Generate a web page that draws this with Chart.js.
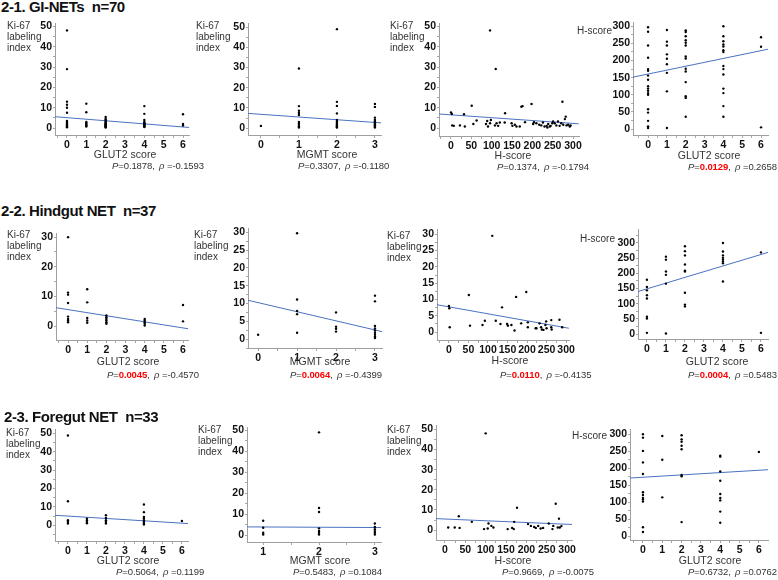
<!DOCTYPE html>
<html>
<head>
<meta charset="utf-8">
<script src="https://cdn.jsdelivr.net/npm/chart.js@4.4.0/dist/chart.umd.min.js"></script>
<style>
body { margin:0; background:#fff; width:778px; height:580px; overflow:hidden; position:relative; font-family:"Liberation Sans", Arial, sans-serif; color:#222; }
.abs { position:absolute; white-space:nowrap; }
canvas { position:absolute; }
.title { font-weight:bold; font-size:15px; line-height:18px; color:#111; letter-spacing:-0.4px; }
.ylab { font-size:10px; line-height:11px; color:#333; }
.xlab { font-size:10.5px; line-height:12px; color:#333; transform:translateX(-50%); }
.stat { font-size:9.5px; line-height:12px; color:#333; letter-spacing:-0.1px; }
.sig { color:#ff0000; font-weight:bold; }
</style>
</head>
<body>
<script>
// tick labels
const glutTicks = [0, 1, 2, 3, 4, 5, 6];
const mgmtTicks = [0, 1, 2, 3];
const mgmtTicksFg = [1, 2, 3];
const hTicks = [0, 50, 100, 150, 200, 250, 300];
const ki50Ticks = [0, 10, 20, 30, 40, 50];
const ki30Ticks = [0, 10, 20, 30];
const ki30Ticks5 = [0, 5, 10, 15, 20, 25, 30];

const titles = ['2-1. GI-NETs  n=70', '2-2. Hindgut NET  n=37', '2-3. Foregut NET  n=33'];
const pValues = ['0.1878', '0.3307', '0.1374', '0.0129',
                 '0.0045', '0.0064', '0.0110', '0.0004',
                 '0.5064', '0.5483', '0.9669', '0.6732'];
const rhoValues = ['-0.1593', '-0.1180', '-0.1794', '0.2658',
                   '-0.4570', '-0.4399', '-0.4135', '0.5483',
                   '0.1199', '0.1084', '-0.0075', '0.0762'];

// 2-1 GI-NETs
const giGlutKi = [[0,48],[0,29],[0,13],[0,11.5],[0,10],[0,7.5],[0,3.5],[0,3],[0,2.5],[0,2],[0,1.5],[0,1.2],[0,1],[0,0.7],[0,0.4],
  [1,12],[1,7.8],[1,3],[1,2.5],[1,2],[1,1.5],[1,1.2],[1,0.8],
  [2,5.5],[2,4.5],[2,4],[2,3.5],[2,3],[2,2.5],[2,2.2],[2,2],[2,1.8],[2,1.5],[2,1.2],[2,1],[2,0.8],[2,0.5],[2,0.3],
  [4,10.8],[4,7],[4,4],[4,3],[4,2.5],[4,2.2],[4,2],[4,1.8],[4,1.5],[4,1.2],[4,1],[4,0.8],[4,0.5],
  [6,6.8],[6,2],[6,1.3]];
const giGlutKiFit = [[-0.62,5.6],[6.31,0.3]];

const giMgmtKi = [[0,1.1],
  [1,29.5],[1,10.9],[1,8.6],[1,7.5],[1,6.5],[1,3],[1,2.2],[1,1.5],[1,0.8],[1,0.3],
  [2,49],[2,13],[2,11],[2,7.3],[2,4],[2,3.2],[2,2.6],[2,2],[2,1.6],[2,1.2],[2,0.8],[2,0.5],[2,0.3],
  [3,12],[3,10.5],[3,5.2],[3,4],[3,3.3],[3,2.8],[3,2.2],[3,1.8],[3,1.4],[3,1],[3,0.6],[3,0.3]];
const giMgmtKiFit = [[-0.34,7.3],[3.16,2.6]];

const giHKi = [[0,7.7],[2,6.9],[3,1.3],[7,1.1],[22,1.3],[32,6.8],[34,0.8],[51,11],[55,2],[63,3.7],
  [86,2],[89,3.5],[91,0.8],[96,48],[96,2.4],[98,4],[108,1.3],[110,29],[112,2.4],[116,1.1],[120,2.7],
  [133,7.3],[132,2.7],[149,2.4],[151,1.1],[157,1.6],[161,0.8],[169,0.8],[173,10.5],[176,10.8],[182,2.9],
  [198,11.8],[202,2],[204,2.9],[210,2.4],[217,1.6],[222,1.3],[226,2.7],[230,0.8],[235,1.1],[237,0.3],
  [239,2],[243,0.8],[245,1.1],[249,2.4],[251,3.2],[255,2.4],[259,1.3],[263,3.2],[267,1.1],[271,2.4],
  [274,12.9],[276,1.6],[280,4.4],[282,5.6],[284,1.3],[288,1.6],[292,0.8],[294,1.3]];
const giHKiFit = [[-29,6.9],[314,2.1]];

const giGlutH = [[0,297],[0,284],[0,244],[0,208],[0,175],[0,170],[0,156],[0,144],[0,125],[0,118],[0,112],[0,105],[0,100],[0,58],[0,48],[0,24],[0,8],[0,3],
  [1,289],[1,255],[1,244],[1,218],[1,205],[1,189],[1,164],[1,110],[1,3],
  [2,288],[2,283],[2,271],[2,259],[2,252],[2,244],[2,212],[2,206],[2,176],[2,168],[2,137],[2,96],[2,91],[2,36],
  [4,300],[4,271],[4,256],[4,247],[4,241],[4,230],[4,225],[4,184],[4,175],[4,159],[4,118],[4,105],[4,67],[4,36],
  [6,268],[6,240],[6,5]];
const giGlutHFit = [[-0.8,151.5],[6.37,233]];

// 2-2 Hindgut NET
const hgGlutKi = [[0,30],[0,11.3],[0,10.6],[0,7.8],[0,3.2],[0,2.4],[0,1.9],[0,1.3],
  [1,12.4],[1,8],[1,2.7],[1,1.9],[1,1.1],
  [2,3.6],[2,3],[2,2.4],[2,1.9],[2,1.3],[2,0.8],
  [4,2.4],[4,1.9],[4,1.3],[4,0.8],[4,0.2],
  [6,7.1],[6,1.6]];
const hgGlutKiFit = [[-0.63,6.2],[6.26,-0.9]];

const hgMgmtKi = [[0,1.2],
  [1,29.7],[1,11.1],[1,7.9],[1,7],[1,1.8],
  [2,7.5],[2,3.5],[2,2.9],[2,2.1],
  [3,12.2],[3,10.6],[3,3.7],[3,3],[3,2.4],[3,1.8],[3,1.2],[3,0.7],[3,0.3]];
const hgMgmtKiFit = [[-0.26,10.9],[3.18,2.1]];

const hgHKi = [[0,8],[1,7.3],[2,1.5],[51,11.4],[54,2],[86,2.2],[92,3.5],[111,29.5],[120,3.5],[132,2.5],
  [136,7.6],[149,2.5],[151,2],[160,2.2],[168,0.5],[172,10.8],[185,2.7],[198,12.3],[202,3],[202,1.5],
  [222,1.2],[224,1.2],[232,2.7],[236,1.5],[238,0.8],[242,0.7],[247,2.2],[249,3.3],[250,1.2],
  [262,3.7],[262,1.5],[263,0.8],[283,3.8],[290,1.5]];
const hgHKiFit = [[-30.5,8.4],[307,1.2]];

const hgGlutH = [[0,179],[0,155],[0,144],[0,128],[0,117],[0,57],[0,51],[0,4],
  [1,255],[1,245],[1,206],[1,195],[1,166],[1,2],
  [2,289],[2,273],[2,259],[2,229],[2,209],[2,206],[2,136],[2,97],[2,91],
  [4,300],[4,272],[4,259],[4,251],[4,245],[4,239],[4,233],[4,173],
  [6,269],[6,4]];
const hgGlutHFit = [[-0.47,140],[6.37,269]];

// 2-3 Foregut NET
const fgGlutKi = [[0,48.8],[0,13],[0,2.7],[0,1.8],[0,0.9],
  [1,3.6],[1,2.7],[1,1.8],[1,1.1],
  [2,5.4],[2,3.9],[2,2.7],[2,1.8],[2,0.9],
  [4,11.3],[4,7.1],[4,4.5],[4,3.6],[4,2.7],[4,1.8],[4,0.9],[4,0.4],
  [6,2.3]];
const fgGlutKiFit = [[-0.68,5.4],[6.32,0.9]];

const fgMgmtKi = [[1,6.8],[1,3.5],[1,1.1],[1,0.3],
  [2,49],[2,12.9],[2,11],[2,3.2],[2,2],[2,1.1],[2,0.3],
  [3,5.5],[3,3.9],[3,2.8],[3,1.9],[3,1.1],[3,0.3]];
const fgMgmtKiFit = [[0.71,3.9],[3.11,3.6]];

const fgHKi = [[8,1.3],[24,1.3],[34,6.9],[36,1.1],[66,4.1],[96,0.5],[100,48],[105,0.8],[107,3.3],[114,2.1],
  [119,1.3],[154,0.5],[165,1.1],[169,0.5],[170,4.1],[177,11.1],[204,3],[211,2.1],[219,1.6],[223,1.1],
  [229,2.1],[235,0.8],[241,1.1],[255,3.3],[264,0.5],[266,2.1],[272,13.1],[277,1.3],[280,5.7],[282,1.3],[286,2]];
const fgHKiFit = [[-22,5.7],[312,2.8]];

const fgGlutH = [[0,300],[0,290],[0,251],[0,217],[0,183],[0,129],[0,121],[0,112],[0,108],[0,102],[0,26],[0,12],
  [1,295],[1,225],[1,114],
  [2,297],[2,285],[2,278],[2,266],[2,256],[2,180],[2,176],[2,41],
  [4,237],[4,234],[4,190],[4,163],[4,124],[4,112],[4,105],[4,72],[4,39],
  [6,248]];
const fgGlutHFit = [[-0.67,171],[6.47,195.5]];

// layout: plot area [left, top, right, bottom] in page px
const boxes = [
  [55, 22, 189, 135], [248, 22, 381, 135], [439, 22, 579, 136], [633, 21, 768, 135],
  [56, 232, 188, 340], [248, 227, 382, 348], [437, 228, 570, 340], [638, 228, 768, 339],
  [55, 428, 188, 541], [247, 426, 381, 542], [436, 424, 572, 540], [630, 428, 768, 540]
];
const ranges = [
  [-0.62, 6.31, -3.4, 51.5], [-0.34, 3.16, -3.4, 51.9], [-29.5, 314.7, -3.9, 51.5], [-0.8, 6.37, -17.3, 311.5],
  [-0.63, 6.26, -4.7, 31.3], [-0.26, 3.18, -2.5, 31.1], [-30.5, 307.6, -2.4, 31.5], [-0.47, 6.37, -16.3, 345],
  [-0.68, 6.32, -8.6, 52.2], [0.71, 3.11, -3.3, 51.4], [-22, 312, -4.9, 52], [-0.67, 6.47, -11.7, 314.6]
];
const panels = [
  [giGlutKi, giGlutKiFit, glutTicks, ki50Ticks], [giMgmtKi, giMgmtKiFit, mgmtTicks, ki50Ticks],
  [giHKi, giHKiFit, hTicks, ki50Ticks], [giGlutH, giGlutHFit, glutTicks, hTicks],
  [hgGlutKi, hgGlutKiFit, glutTicks, ki30Ticks], [hgMgmtKi, hgMgmtKiFit, mgmtTicks, ki30Ticks5],
  [hgHKi, hgHKiFit, hTicks, ki30Ticks5], [hgGlutH, hgGlutHFit, glutTicks, hTicks],
  [fgGlutKi, fgGlutKiFit, glutTicks, ki50Ticks], [fgMgmtKi, fgMgmtKiFit, mgmtTicksFg, ki50Ticks],
  [fgHKi, fgHKiFit, hTicks, ki50Ticks], [fgGlutH, fgGlutHFit, glutTicks, hTicks]
];
const xNames = ['GLUT2 score', 'MGMT score', 'H-score', 'GLUT2 score'];

const PADL = 34, PADT = 6, PADR = 6, PADB = 18;

// labelled ticks plus unlabelled half-step marks
function withMinor(ticks, min, max) {
  const out = [];
  const step = ticks[1] - ticks[0];
  for (let v = ticks[0] - step / 2; v <= max; v += step / 2) {
    if (v >= min) out.push(v);
  }
  return out;
}

function axis(min, max, ticks, isY) {
  return {
    type: 'linear',
    min: min,
    max: max,
    afterBuildTicks: s => { s.ticks = withMinor(ticks, min, max).map(v => ({ value: v })); },
    afterFit: s => { if (isY) s.width = PADL; else s.height = PADB; },
    grid: { drawOnChartArea: false, drawTicks: true, tickLength: isY ? 2 : 3, color: '#a8a8a8' },
    border: { color: '#a0a0a0', width: 1 },
    ticks: {
      color: '#111',
      font: { family: 'Liberation Sans', size: 10.5, weight: 'bold' },
      padding: 1,
      autoSkip: false,
      maxRotation: 0,
      callback: v => ticks.includes(v) ? String(v) : ''
    }
  };
}

function addText(html, x, y, cls) {
  const d = document.createElement('div');
  d.className = 'abs ' + cls;
  d.style.left = x + 'px';
  d.style.top = y + 'px';
  d.innerHTML = html;
  document.body.appendChild(d);
}

panels.forEach((p, i) => {
  const b = boxes[i], r = ranges[i];
  const cv = document.createElement('canvas');
  cv.width = b[2] - b[0] + PADL + PADR;
  cv.height = b[3] - b[1] + PADT + PADB;
  cv.style.left = (b[0] - PADL) + 'px';
  cv.style.top = (b[1] - PADT) + 'px';
  document.body.appendChild(cv);
  new Chart(cv.getContext('2d'), {
    type: 'scatter',
    data: {
      datasets: [{
        data: p[0].map(v => ({ x: v[0], y: v[1] })),
        backgroundColor: '#000',
        borderWidth: 0,
        pointRadius: 1.2
      }, {
        data: p[1].map(v => ({ x: v[0], y: v[1] })),
        showLine: true,
        borderColor: '#4a72c2',
        borderWidth: 1,
        pointRadius: 0
      }]
    },
    options: {
      responsive: false,
      animation: false,
      layout: { padding: { top: PADT, right: PADR, left: 0, bottom: 0 } },
      plugins: { legend: { display: false }, tooltip: { enabled: false } },
      scales: {
        x: axis(r[0], r[1], p[2], false),
        y: axis(r[2], r[3], p[3], true)
      }
    }
  });
});

// titles
addText(titles[0].replace('  ', '&nbsp;&nbsp;'), 1, -2, 'title');
addText(titles[1].replace('  ', '&nbsp;&nbsp;'), 1, 202, 'title');
addText(titles[2].replace('  ', '&nbsp;&nbsp;'), 4, 408, 'title');

// y axis labels
const kiLab = 'Ki-67<br>labeling<br>index';
[[7, 19.5], [196, 19.5], [390, 19.5], [7, 228.5], [194, 228.5], [387, 229.5], [6, 426.5], [198, 423.5], [387, 423.5]]
  .forEach(q => addText(kiLab, q[0], q[1], 'ylab'));
[[577, 24.5], [580, 232.5], [572, 429.5]].forEach(q => addText('H-score', q[0], q[1], 'ylab'));

// x axis labels
const xPos = [[125, 148], [327, 148], [513, 149], [709, 149], [128, 355], [320, 355], [510, 354], [717, 355],
  [128, 554], [320, 554], [513, 554], [710, 554]];
xPos.forEach((q, i) => addText(xNames[i % 4], q[0], q[1], 'xlab'));

// statistics
const sPos = [[112, 160], [298, 160], [497, 161], [688, 161], [107, 369], [290, 369], [500, 369], [688, 369],
  [116, 566], [293, 566], [502, 566], [688, 566]];
sPos.forEach((q, i) => {
  const sig = parseFloat(pValues[i]) < 0.05;
  const pv = sig ? '<span class="sig">' + pValues[i] + '</span>' : pValues[i];
  addText('<i>P</i>=' + pv + ', &thinsp;<i>ρ</i> =' + rhoValues[i], q[0], q[1], 'stat');
});
</script>
</body>
</html>
